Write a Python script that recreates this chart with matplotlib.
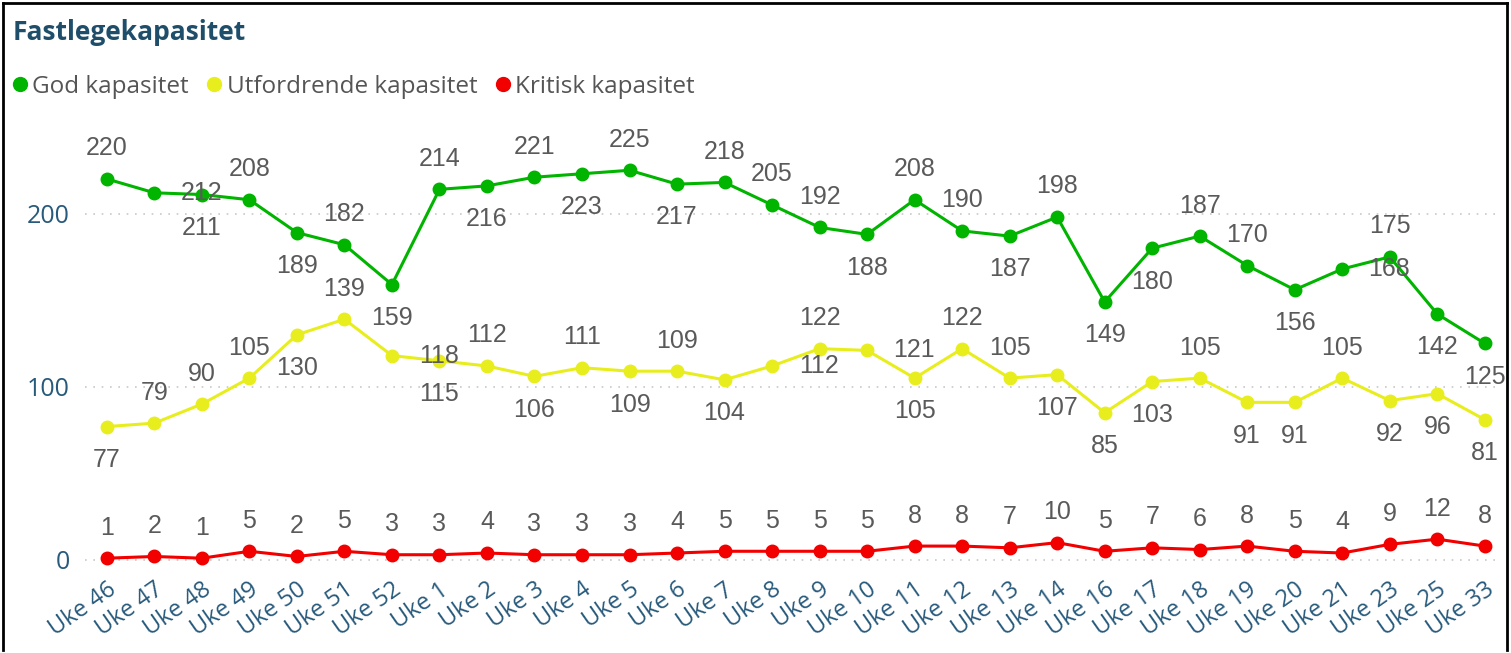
import matplotlib
matplotlib.use("Agg")
import matplotlib.pyplot as plt
import matplotlib.transforms as mtransforms
from matplotlib.lines import Line2D

weeks = ["Uke 46", "Uke 47", "Uke 48", "Uke 49", "Uke 50", "Uke 51", "Uke 52",
         "Uke 1", "Uke 2", "Uke 3", "Uke 4", "Uke 5", "Uke 6", "Uke 7", "Uke 8",
         "Uke 9", "Uke 10", "Uke 11", "Uke 12", "Uke 13", "Uke 14", "Uke 16",
         "Uke 17", "Uke 18", "Uke 19", "Uke 20", "Uke 21", "Uke 23", "Uke 25", "Uke 33"]

god = [220, 212, 211, 208, 189, 182, 159, 214, 216, 221, 223, 225, 217, 218, 205,
       192, 188, 208, 190, 187, 198, 149, 180, 187, 170, 156, 168, 175, 142, 125]
utfordrende = [77, 79, 90, 105, 130, 139, 118, 115, 112, 106, 111, 109, 109, 104, 112,
               122, 121, 105, 122, 105, 107, 85, 103, 105, 91, 91, 105, 92, 96, 81]
kritisk = [1, 2, 1, 5, 2, 5, 3, 3, 4, 3, 3, 3, 4, 5, 5,
           5, 5, 8, 8, 7, 10, 5, 7, 6, 8, 5, 4, 9, 12, 8]

# label placement per point: a = above, b = below, r = right of marker
god_pos = ["a", "r", "b", "a", "b", "a", "b", "a", "b", "a", "b", "a", "b", "a", "a",
           "a", "b", "a", "a", "b", "a", "b", "b", "a", "a", "b", "r", "a", "b", "b"]
utf_pos = ["b", "a", "a", "a", "b", "a", "r", "b", "a", "b", "a", "b", "a", "b", "r",
           "a", "r", "b", "a", "a", "b", "b", "b", "a", "b", "b", "a", "b", "b", "b"]
krit_pos = ["a"] * 30

GREEN = "#00B400"
YELLOW = "#E8EE1E"
RED = "#F20000"
LABEL_GREY = "#5a5a5a"
AXIS_BLUE = "#285A7C"

fig = plt.figure(figsize=(15.11, 6.53), dpi=100)
ax = fig.add_axes([85 / 1511, 78 / 653, 1415 / 1511, 448 / 653])

x = list(range(len(weeks)))
series = [(god, GREEN, god_pos), (utfordrende, YELLOW, utf_pos), (kritisk, RED, krit_pos)]

for values, color, positions in series:
    ax.plot(x, values, color=color, lw=2.2, marker="o", ms=9, zorder=3)
    for xi, v, p in zip(x, values, positions):
        if p == "a":
            off = (0, 22)
        elif p == "b":
            off = (0, -24)
        else:
            off = (34, 0)
        ax.annotate(str(v), (xi, v), xytext=off, textcoords="offset points",
                    ha="center", va="center", fontsize=18, color=LABEL_GREY,
                    family="Liberation Sans", zorder=4)

ax.set_xlim(-0.46, 29.32)
ax.set_ylim(-8.7, 250)
ax.set_yticks([0, 100, 200])
ax.set_xticks(x)
ax.set_xticklabels(weeks, rotation=35, ha="right", va="top", rotation_mode="anchor",
                   fontsize=17, color=AXIS_BLUE, family="Open Sans")
shift = mtransforms.ScaledTranslation(-15 / 100, 0, fig.dpi_scale_trans)
for lbl in ax.get_xticklabels():
    lbl.set_transform(lbl.get_transform() + shift)
for lbl in ax.get_yticklabels():
    lbl.set_fontsize(18)
    lbl.set_color(AXIS_BLUE)
    lbl.set_family("Open Sans")
ax.tick_params(axis="y", length=0, pad=11)
ax.tick_params(axis="x", length=0, pad=2)
ax.grid(axis="y", color="#c8c8c8", linestyle=(0, (1, 4)), lw=1.2)
ax.set_axisbelow(True)
for s in ax.spines.values():
    s.set_visible(False)

fig.text(13 / 1511, 1 - 33 / 653, "Fastlegekapasitet", fontsize=19, fontweight="bold",
         color="#1F4E6B", va="center", family="Open Sans")

handles = [Line2D([], [], marker="o", ls="", color=c, ms=10) for c in (GREEN, YELLOW, RED)]
fig.legend(handles, ["God kapasitet", "Utfordrende kapasitet", "Kritisk kapasitet"],
           loc="center left", bbox_to_anchor=(14 / 1511, 1 - 87 / 653), ncol=3,
           frameon=False, borderpad=0, borderaxespad=0,
           handlelength=0.5, handletextpad=0.25, columnspacing=0.8,
           prop={"family": "Open Sans", "size": 17.5}, labelcolor="#555555")

# outer frame
for xs, ys in [((3, 3), (3, 650)), ((3, 1507), (3, 3)), ((1507, 1507), (3, 650))]:
    fig.add_artist(Line2D([v / 1511 for v in xs], [1 - v / 653 for v in ys],
                          color="black", lw=2))

fig.savefig("out.png", dpi=100)
